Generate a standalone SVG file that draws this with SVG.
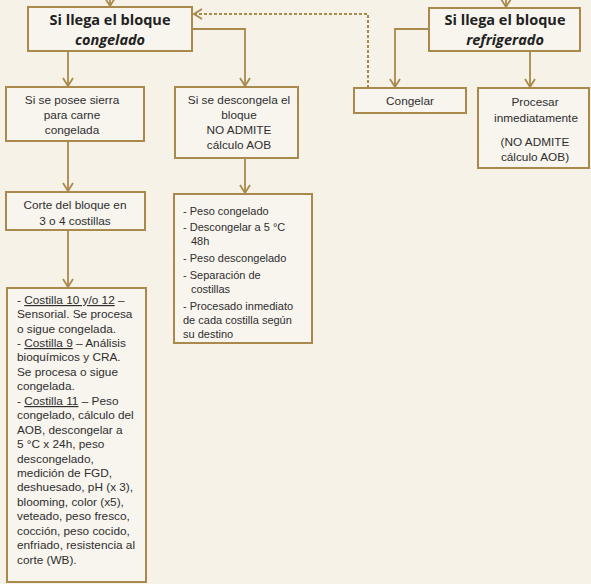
<svg xmlns="http://www.w3.org/2000/svg" width="591" height="584" viewBox="0 0 591 584">
<style>
.bg{fill:#f6f2e8}
.box{fill:#f8f5ee;stroke:#a98a4c;stroke-width:2}
.ln{fill:none;stroke:#a98a4c;stroke-width:1.8}
.dash{fill:none;stroke:#a98a4c;stroke-width:2;stroke-dasharray:3 2}
.h{font-family:"Open Sans","Liberation Sans",sans-serif;font-weight:bold;font-size:14.5px;fill:#222;text-anchor:middle}
.hi{font-style:italic}
.t{font-family:"Liberation Sans",sans-serif;font-size:11.8px;fill:#2e2e2e;text-anchor:middle}
.l{font-family:"Liberation Sans",sans-serif;font-size:11px;fill:#2e2e2e}
.b{font-family:"Liberation Sans",sans-serif;font-size:11.8px;fill:#2e2e2e}
.u{text-decoration:underline}
</style>
<defs>
<marker id="ar" viewBox="0 0 10 12" refX="9" refY="6" markerWidth="10" markerHeight="12" markerUnits="userSpaceOnUse" orient="auto">
<path d="M1,1 L9,6 L1,11" fill="none" stroke="#a98a4c" stroke-width="1.8"/>
</marker>
</defs>
<rect class="bg" x="0" y="0" width="591" height="584"/>
<g id="connectors">
<path class="ln" d="M110,0 V6" marker-end="url(#ar)"/>
<path class="ln" d="M506,0 V7" marker-end="url(#ar)"/>
<path class="dash" d="M368,88 V14 H194" marker-end="url(#ar)"/>
<path class="ln" d="M68,51 V86" marker-end="url(#ar)"/>
<path class="ln" d="M192,29 H245 V86" marker-end="url(#ar)"/>
<path class="ln" d="M429,29 H395 V87" marker-end="url(#ar)"/>
<path class="ln" d="M530,51 V87" marker-end="url(#ar)"/>
<path class="ln" d="M68,141 V191" marker-end="url(#ar)"/>
<path class="ln" d="M245,158 V193" marker-end="url(#ar)"/>
<path class="ln" d="M68,230 V287" marker-end="url(#ar)"/>
</g>
<g id="congelado">
<rect class="box" x="28" y="7" width="164" height="44"/>
<text class="h" x="110" y="25">Si llega el bloque</text>
<text class="h hi" x="110" y="45">congelado</text>
</g>
<g id="refrigerado">
<rect class="box" x="429" y="8" width="151" height="43"/>
<text class="h" x="505" y="25">Si llega el bloque</text>
<text class="h hi" x="505" y="45">refrigerado</text>
</g>
<g id="sierra">
<rect class="box" x="6" y="87" width="138" height="54"/>
<text class="t" x="72" y="104">Si se posee sierra</text>
<text class="t" x="72" y="119">para carne</text>
<text class="t" x="72" y="134">congelada</text>
</g>
<g id="descongela">
<rect class="box" x="175" y="87" width="123" height="71"/>
<text class="t" x="239" y="104">Si se descongela el</text>
<text class="t" x="239" y="119">bloque</text>
<text class="t" x="239" y="134">NO ADMITE</text>
<text class="t" x="239" y="149">cálculo AOB</text>
</g>
<g id="congelar">
<rect class="box" x="354" y="88" width="112" height="25"/>
<text class="t" x="410" y="105">Congelar</text>
</g>
<g id="procesar">
<rect class="box" x="478" y="88" width="111" height="80"/>
<text class="t" x="535" y="106">Procesar</text>
<text class="t" x="536" y="122">inmediatamente</text>
<text class="t" x="535" y="146">(NO ADMITE</text>
<text class="t" x="535" y="161">cálculo AOB)</text>
</g>
<g id="corte">
<rect class="box" x="6" y="192" width="139" height="38"/>
<text class="t" x="75" y="209">Corte del bloque en</text>
<text class="t" x="75" y="225">3 o 4 costillas</text>
</g>
<g id="pasos">
<rect class="box" x="174" y="194" width="138" height="149"/>
<text class="l" x="183" y="215">- Peso congelado</text>
<text class="l" x="183" y="231">- Descongelar a 5 °C</text>
<text class="l" x="191" y="245">48h</text>
<text class="l" x="183" y="262">- Peso descongelado</text>
<text class="l" x="183" y="279">- Separación de</text>
<text class="l" x="191" y="293">costillas</text>
<text class="l" x="183" y="310">- Procesado inmediato</text>
<text class="l" x="183" y="324">de cada costilla según</text>
<text class="l" x="183" y="338">su destino</text>
</g>
<g id="costillas">
<rect class="box" x="7" y="288" width="139" height="294"/>
<text class="b" x="17" y="304">- <tspan class="u">Costilla 10 y/o 12</tspan> –</text>
<text class="b" x="17" y="318">Sensorial. Se procesa</text>
<text class="b" x="17" y="333">o sigue congelada.</text>
<text class="b" x="17" y="347">- <tspan class="u">Costilla 9</tspan> – Análisis</text>
<text class="b" x="17" y="361">bioquímicos y CRA.</text>
<text class="b" x="17" y="376">Se procesa o sigue</text>
<text class="b" x="17" y="390">congelada.</text>
<text class="b" x="17" y="405">- <tspan class="u">Costilla 11</tspan> – Peso</text>
<text class="b" x="17" y="419">congelado, cálculo del</text>
<text class="b" x="17" y="434">AOB, descongelar a</text>
<text class="b" x="17" y="448">5 °C x 24h, peso</text>
<text class="b" x="17" y="463">descongelado,</text>
<text class="b" x="17" y="477">medición de FGD,</text>
<text class="b" x="17" y="491">deshuesado, pH (x 3),</text>
<text class="b" x="17" y="506">blooming, color (x5),</text>
<text class="b" x="17" y="520">veteado, peso fresco,</text>
<text class="b" x="17" y="535">cocción, peso cocido,</text>
<text class="b" x="17" y="549">enfriado, resistencia al</text>
<text class="b" x="17" y="564">corte (WB).</text>
</g>
</svg>
